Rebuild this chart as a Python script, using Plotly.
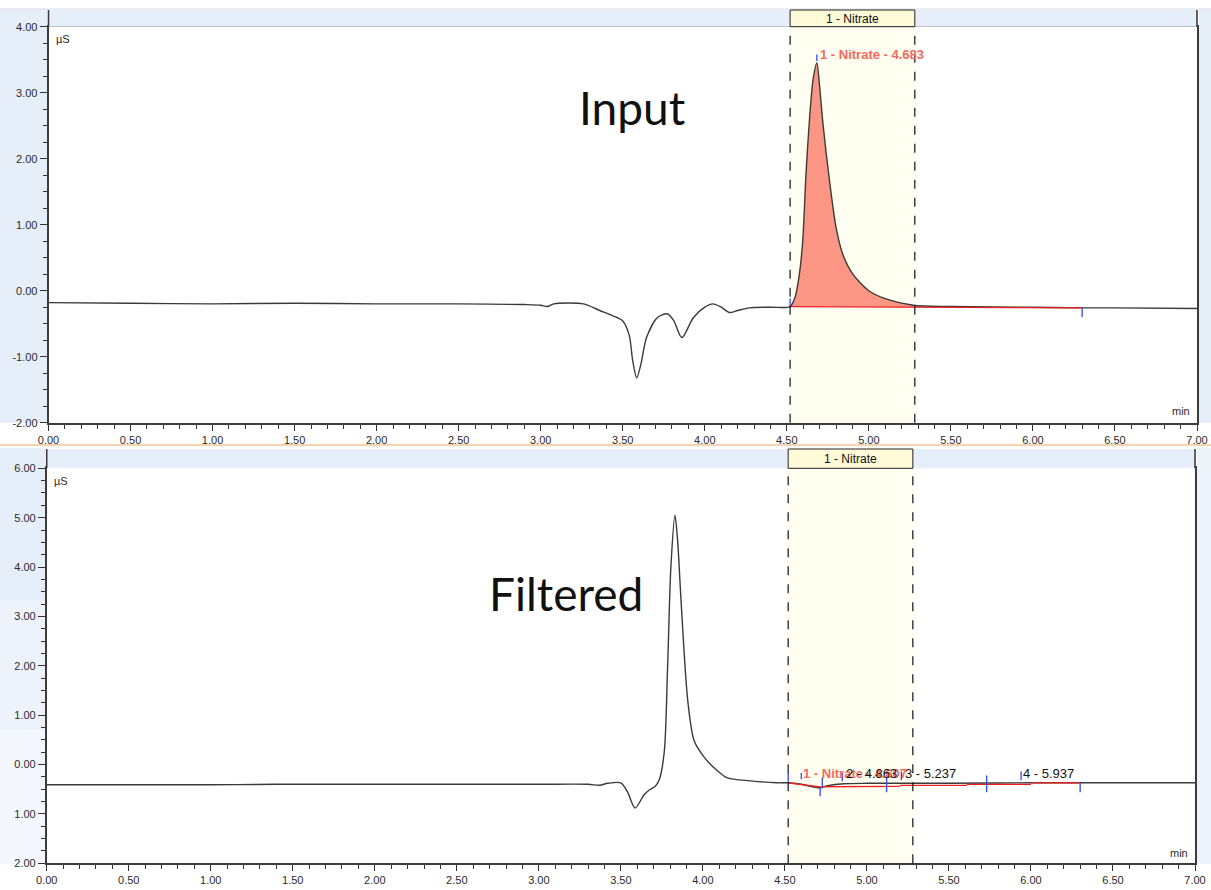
import plotly.graph_objects as go

W, H = 1211, 890
def px(x): return x / W
def py(y): return 1 - y / H

# ---------------- data ----------------
# Input chromatogram (min, µS)
input_t = [0.00, 0.50, 1.00, 1.50, 2.00, 2.50, 2.90, 3.00, 3.04, 3.08, 3.26, 3.36, 3.44, 3.50,
           3.54, 3.56, 3.585, 3.61, 3.645, 3.71, 3.77, 3.81, 3.86, 3.93, 4.00, 4.05, 4.10,
           4.15, 4.20, 4.27, 4.40, 4.52, 4.55, 4.577, 4.597, 4.617, 4.638, 4.66, 4.683,
           4.70, 4.72, 4.76, 4.80, 4.84, 4.90, 5.00, 5.10, 5.27, 5.50, 6.00, 6.30, 6.50, 7.00]
input_v = [-0.18, -0.19, -0.20, -0.19, -0.20, -0.20, -0.21, -0.22, -0.24, -0.20, -0.20, -0.30, -0.38, -0.46,
           -0.68, -1.05, -1.32, -1.12, -0.71, -0.41, -0.35, -0.45, -0.71, -0.41, -0.25, -0.20, -0.25,
           -0.33, -0.30, -0.26, -0.25, -0.24, -0.10, 0.26, 0.76, 1.78, 2.59, 3.20, 3.45,
           3.09, 2.54, 1.67, 0.96, 0.56, 0.26, 0.00, -0.12, -0.22, -0.24, -0.25, -0.26, -0.26, -0.27]

# Filtered chromatogram (min, µS)
filt_t = [0.00, 1.00, 1.40, 2.00, 2.50, 3.00, 3.30, 3.37, 3.42, 3.50, 3.54, 3.587, 3.644, 3.68,
          3.71, 3.735, 3.765, 3.785, 3.805, 3.83, 3.846, 3.867, 3.908, 3.947, 4.01, 4.09, 4.15,
          4.29, 4.45, 4.52, 4.60, 4.715, 4.76, 4.86, 5.00, 5.50, 6.00, 7.00]
filt_v = [-0.41, -0.41, -0.40, -0.40, -0.40, -0.40, -0.40, -0.42, -0.38, -0.37, -0.55, -0.88, -0.60, -0.50,
          -0.44, -0.30, 0.27, 1.97, 4.00, 5.05, 4.54, 3.32, 1.29, 0.48, 0.14, -0.13, -0.27,
          -0.33, -0.37, -0.37, -0.40, -0.47, -0.43, -0.39, -0.38, -0.38, -0.37, -0.37]

# Integration window / detection
window_name = "1 - Nitrate"
window_start = 4.52
window_end = 5.28

# Input: peak 1 integration
in_peak_start, in_peak_end = 4.52, 6.30
in_base_v = [-0.24, -0.26]
in_label = "1 - Nitrate - 4.683"
in_label_t, in_label_v = 4.69, 3.58
in_tick_t = [4.52, 4.683, 6.30]
in_tick_lo = [-0.24, 3.48, -0.40]
in_tick_hi = [-0.12, 3.58, -0.26]

# Filtered: peaks
f_labels = ["1 - Nitrate - 4.607", "2 - 4.863", "3 - 5.237", "4 - 5.937"]
f_label_t = [4.60, 4.86, 5.22, 5.94]
f_label_colors = ["#F36A5C", "#111111", "#111111", "#111111"]
f_label_bold = [True, False, False, False]
f_base_t = [4.52, 4.728, None, 4.728, 5.20, None, 5.20, 5.61, None, 5.61, 6.00, None, 6.00, 6.30]
f_base_v = [-0.37, -0.46, None, -0.45, -0.44, None, -0.42, -0.42, None, -0.40, -0.40, None, -0.37, -0.37]
f_tick_t = [4.52, 4.60, 4.715, 4.728, 4.85, 5.12, 5.21, 5.73, 5.94, 6.30]
f_tick_lo = [-0.37, -0.30, -0.47, -0.48, -0.34, -0.56, -0.32, -0.56, -0.32, -0.37]
f_tick_hi = [-0.17, -0.17, -0.64, -0.26, -0.17, -0.26, -0.14, -0.22, -0.14, -0.56]

x_ticks = [0, 0.5, 1, 1.5, 2, 2.5, 3, 3.5, 4, 4.5, 5, 5.5, 6, 6.5, 7]
x_ticktext = ["0.00", "0.50", "1.00", "1.50", "2.00", "2.50", "3.00", "3.50", "4.00", "4.50",
              "5.00", "5.50", "6.00", "6.50", "7.00"]
top_y_ticks = [-2, -1, 0, 1, 2, 3, 4]
top_y_text = ["-2.00", "-1.00", "0.00", "1.00", "2.00", "3.00", "4.00"]
bot_y_ticks = [-2, -1, 0, 1, 2, 3, 4, 5, 6]
bot_y_text = ["2.00", "1.00", "0.00", "1.00", "2.00", "3.00", "4.00", "5.00", "6.00"]

# ---------------- figure ----------------
fig = go.Figure()
LINE = "#3a3a3a"
FILL = "#FA9683"
RED = "#F21E1E"
BLUE = "#3348F0"

def ticks_xy(ts, lo, hi):
    xs, ys = [], []
    for t, a, b in zip(ts, lo, hi):
        xs += [t, t, None]
        ys += [a, b, None]
    return xs, ys

# top panel
sel = [(t, v) for t, v in zip(input_t, input_v) if in_peak_start <= t <= in_peak_end]
fig.add_trace(go.Scatter(x=[p[0] for p in sel], y=[p[1] for p in sel], mode="lines",
                         line=dict(width=0, shape="spline", smoothing=0.8), fill="toself",
                         fillcolor=FILL, xaxis="x", yaxis="y", hoverinfo="skip"))
fig.add_trace(go.Scatter(x=input_t, y=input_v, mode="lines",
                         line=dict(color=LINE, width=1.4, shape="spline", smoothing=0.8),
                         xaxis="x", yaxis="y"))
fig.add_trace(go.Scatter(x=[in_peak_start, in_peak_end], y=in_base_v, mode="lines",
                         line=dict(color=RED, width=1.3), xaxis="x", yaxis="y"))
tx, ty = ticks_xy(in_tick_t, in_tick_lo, in_tick_hi)
fig.add_trace(go.Scatter(x=tx, y=ty, mode="lines", line=dict(color=BLUE, width=1.3),
                         xaxis="x", yaxis="y"))

# bottom panel
fig.add_trace(go.Scatter(x=filt_t, y=filt_v, mode="lines",
                         line=dict(color=LINE, width=1.4, shape="spline", smoothing=0.8),
                         xaxis="x2", yaxis="y2"))
fig.add_trace(go.Scatter(x=f_base_t, y=f_base_v, mode="lines",
                         line=dict(color=RED, width=1.3), xaxis="x2", yaxis="y2"))
tx, ty = ticks_xy(f_tick_t, f_tick_lo, f_tick_hi)
fig.add_trace(go.Scatter(x=tx, y=ty, mode="lines", line=dict(color=BLUE, width=1.3),
                         xaxis="x2", yaxis="y2"))

tickfont = dict(family="Liberation Sans, Arial", size=11, color="#2a2a2a")
common_x = dict(range=[0, 7], tickvals=x_ticks, ticktext=x_ticktext, ticks="outside",
                ticklen=6, tickcolor="#333", tickwidth=1, showline=True, linecolor="#3c3c3c",
                linewidth=1.6, mirror=True, showgrid=False, zeroline=False, tickfont=tickfont,
                automargin=False, fixedrange=True,
                minor=dict(dtick=0.1, tick0=0, ticks="outside", ticklen=4, tickcolor="#333"))
common_y = dict(ticks="outside", ticklen=7, tickcolor="#333", tickwidth=1, showline=True,
                linecolor="#3c3c3c", linewidth=1.6, mirror=True, showgrid=False, zeroline=False,
                tickfont=tickfont, automargin=False, fixedrange=True,
                minor=dict(dtick=0.25, tick0=0, ticks="outside", ticklen=4, tickcolor="#333"))

fig.update_layout(
    template="none", autosize=False,
    width=W, height=H, margin=dict(l=0, r=0, t=0, b=0, pad=0),
    paper_bgcolor="white", plot_bgcolor="white", showlegend=False,
    xaxis=dict(domain=[px(48.5), px(1197)], anchor="y", **common_x),
    yaxis=dict(domain=[py(422.7), py(26.7)], anchor="x", range=[-2, 4],
               tickvals=top_y_ticks, ticktext=top_y_text, **common_y),
    xaxis2=dict(domain=[px(46.7), px(1195)], anchor="y2", **common_x),
    yaxis2=dict(domain=[py(863.3), py(468.3)], anchor="x2", range=[-2, 6],
                tickvals=bot_y_ticks, ticktext=bot_y_text, **common_y),
)

shapes = []
BAND = "#E6EEFA"
# page backgrounds
shapes.append(dict(type="rect", xref="paper", yref="paper", x0=0, x1=px(47), y0=py(423), y1=py(9),
                   fillcolor=BAND, line=dict(width=0), layer="below"))
shapes.append(dict(type="rect", xref="paper", yref="paper", x0=0, x1=px(45), y0=py(600), y1=py(448),
                   fillcolor=BAND, line=dict(width=0), layer="below"))
shapes.append(dict(type="rect", xref="paper", yref="paper", x0=0, x1=px(45), y0=py(730), y1=py(600),
                   fillcolor="#EDF2FB", line=dict(width=0), layer="below"))
shapes.append(dict(type="rect", xref="paper", yref="paper", x0=0, x1=px(45), y0=py(864), y1=py(730),
                   fillcolor="#F4F7FD", line=dict(width=0), layer="below"))
shapes.append(dict(type="rect", xref="paper", yref="paper", x0=px(1199), x1=1, y0=py(423), y1=py(9),
                   fillcolor=BAND, line=dict(width=0), layer="below"))
shapes.append(dict(type="rect", xref="paper", yref="paper", x0=px(1197), x1=1, y0=py(864), y1=py(448),
                   fillcolor="#EEF3FB", line=dict(width=0), layer="below"))
shapes.append(dict(type="line", xref="paper", yref="paper", x0=0, x1=1, y0=py(9), y1=py(9),
                   line=dict(color="#D5DCE6", width=1)))
# separator
shapes.append(dict(type="line", xref="paper", yref="paper", x0=0, x1=1, y0=py(445), y1=py(445),
                   line=dict(color="#F0A860", width=1.2)))

for xa, ya, x0p, x1p, ytop, ybot in [("x", "y", 48.5, 1197, 10, 26.7), ("x2", "y2", 46.7, 1195, 449, 468.3)]:
    # header band
    shapes.append(dict(type="rect", xref="paper", yref="paper", x0=px(x0p), x1=px(x1p),
                       y0=py(ybot), y1=py(ytop), fillcolor=BAND, line=dict(width=0)))
    for xe in (x0p, x1p):
        shapes.append(dict(type="line", xref="paper", yref="paper", x0=px(xe), x1=px(xe),
                           y0=py(ybot), y1=py(ytop), line=dict(color="#3c3c3c", width=1.6)))
    # window header box
    shapes.append(dict(type="rect", xref=xa, yref="paper", x0=window_start, x1=window_end,
                       y0=py(ybot), y1=py(ytop), fillcolor="#FFFBD8", line=dict(color="#222", width=1)))
    # window region
    shapes.append(dict(type="rect", xref=xa, yref=ya + " domain", x0=window_start, x1=window_end,
                       y0=0, y1=1, fillcolor="#FFFEF1", line=dict(width=0), layer="below"))
    for xv in (window_start, window_end):
        shapes.append(dict(type="line", xref=xa, yref=ya + " domain", x0=xv, x1=xv, y0=0, y1=1,
                           line=dict(color="#111", width=1.2, dash="dash")))
fig.update_layout(shapes=shapes)

small = dict(family="Liberation Sans, Arial", size=11, color="#2a2a2a")
ann = []
for xa, ytxt in [("x", 18.5), ("x2", 459)]:
    ann.append(dict(text=window_name, xref=xa, yref="paper", x=(window_start + window_end) / 2,
                    y=py(ytxt), xanchor="center", yanchor="middle", showarrow=False,
                    font=dict(family="Liberation Sans, Arial", size=12, color="#111")))
ann.append(dict(text="µS", xref="paper", yref="paper", x=px(54), y=py(39), xanchor="left",
                yanchor="middle", showarrow=False, font=small))
ann.append(dict(text="µS", xref="paper", yref="paper", x=px(52), y=py(481), xanchor="left",
                yanchor="middle", showarrow=False, font=small))
ann.append(dict(text="min", xref="paper", yref="paper", x=px(1192), y=py(411), xanchor="right",
                yanchor="middle", showarrow=False, font=small))
ann.append(dict(text="min", xref="paper", yref="paper", x=px(1190), y=py(853), xanchor="right",
                yanchor="middle", showarrow=False, font=small))
ann.append(dict(text="<b>" + in_label + "</b>", xref="x", yref="y", x=in_label_t, y=in_label_v,
                xanchor="left", yanchor="middle", showarrow=False,
                font=dict(family="Liberation Sans, Arial", size=13, color="#F36A5C")))
for lab, t, c, b in zip(f_labels, f_label_t, f_label_colors, f_label_bold):
    ann.append(dict(text=("<b>" + lab + "</b>") if b else lab, xref="x2", yref="y2", x=t, y=-0.19,
                    xanchor="left", yanchor="middle", showarrow=False,
                    font=dict(family="Liberation Sans, Arial", size=13, color=c)))
ann.append(dict(text="Input", xref="paper", yref="paper", x=px(632), y=py(108), xanchor="center",
                yanchor="middle", showarrow=False, font=dict(family="Lato", size=46, color="#111")))
ann.append(dict(text="Filtered", xref="paper", yref="paper", x=px(566), y=py(593), xanchor="center",
                yanchor="middle", showarrow=False, font=dict(family="Lato", size=46, color="#111")))
fig.update_layout(annotations=ann)

fig.write_html("out.html", config={"displayModeBar": False},
               post_script="document.body.style.margin='0px';document.body.style.overflow='hidden';")
